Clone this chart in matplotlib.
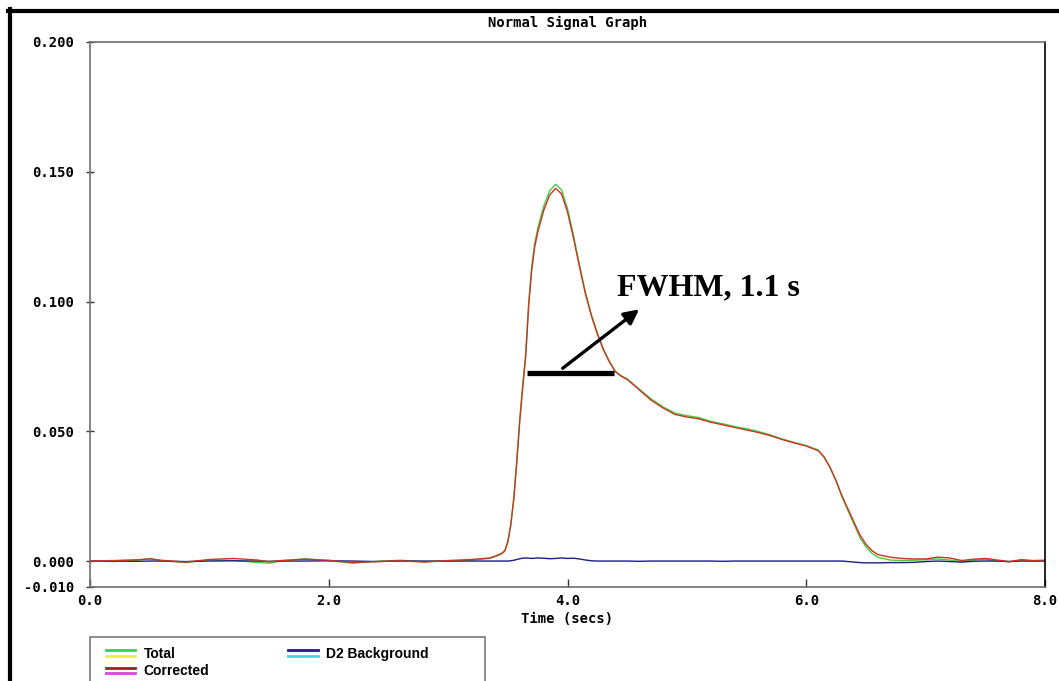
import matplotlib
matplotlib.use("Agg")
import matplotlib.pyplot as plt
from matplotlib.lines import Line2D
from matplotlib.patches import Rectangle
from matplotlib.legend_handler import HandlerBase

# tempo (s): linha de base, subida/pico, cauda
t = [0.0, 0.2, 0.4, 0.5, 0.6, 0.8, 1.0, 1.2, 1.4, 1.5, 1.6, 1.8, 2.0, 2.2, 2.4,
     2.6, 2.8, 3.0, 3.2, 3.3,
     3.35, 3.4, 3.45, 3.475, 3.5, 3.525, 3.55, 3.575, 3.6, 3.625, 3.65, 3.675,
     3.7, 3.725, 3.75, 3.8, 3.85, 3.9, 3.95, 4.0, 4.05, 4.1, 4.15, 4.2, 4.25,
     4.3, 4.35, 4.4, 4.45,
     4.5, 4.6, 4.7, 4.8, 4.9, 5.0, 5.1, 5.2, 5.3, 5.4, 5.5, 5.6, 5.7, 5.8, 5.9,
     6.0, 6.1, 6.15, 6.2, 6.25, 6.3, 6.35, 6.4, 6.45, 6.5, 6.55, 6.6, 6.7, 6.8,
     6.9, 7.0, 7.1, 7.2, 7.3, 7.4, 7.5, 7.6, 7.7, 7.8, 7.9, 8.0]

corrected = [0.0000, 0.0002, 0.0005, 0.0008, 0.0003, -0.0004, 0.0006, 0.0010,
             0.0004, -0.0003, 0.0002, 0.0007, 0.0003, -0.0006, -0.0002, 0.0001,
             -0.0004, 0.0002, 0.0006, 0.0010,
             0.0012, 0.0020, 0.0030, 0.0040, 0.0075, 0.0140, 0.0240, 0.0380,
             0.0540, 0.0670, 0.0790, 0.0985, 0.1120, 0.1210, 0.1265, 0.1350,
             0.1410, 0.1436, 0.1415, 0.1345, 0.1245, 0.1135, 0.1030, 0.0945,
             0.0875, 0.0815, 0.0768, 0.0730, 0.0712,
             0.0700, 0.0660, 0.0620, 0.0590, 0.0565, 0.0555, 0.0548, 0.0535,
             0.0525, 0.0515, 0.0505, 0.0495, 0.0483, 0.0468, 0.0455, 0.0443,
             0.0425, 0.0400, 0.0360, 0.0310, 0.0250, 0.0200, 0.0150, 0.0100,
             0.0065, 0.0040, 0.0025, 0.0015, 0.0010, 0.0008, 0.0008, 0.0015,
             0.0012, 0.0002, 0.0007, 0.0010, 0.0004, -0.0002, 0.0005, 0.0002,
             0.0003]

total = [0.0000, -0.0002, 0.0003, 0.0010, 0.0001, -0.0006, 0.0004, 0.0002,
         -0.0005, -0.0008, 0.0000, 0.0009, 0.0001, -0.0008, -0.0001, 0.0003,
         -0.0002, 0.0000, 0.0004, 0.0008,
         0.0010, 0.0018, 0.0028, 0.0038, 0.0072, 0.0138, 0.0240, 0.0384,
         0.0546, 0.0678, 0.0800, 0.0996, 0.1132, 0.1224, 0.1280, 0.1366,
         0.1426, 0.1452, 0.1430, 0.1358, 0.1255, 0.1142, 0.1036, 0.0950,
         0.0879, 0.0818, 0.0770, 0.0732, 0.0714,
         0.0702, 0.0663, 0.0625, 0.0594, 0.0570, 0.0560, 0.0553, 0.0538,
         0.0529, 0.0518, 0.0510, 0.0499, 0.0486, 0.0470, 0.0457, 0.0445,
         0.0428, 0.0402, 0.0360, 0.0308, 0.0246, 0.0194, 0.0142, 0.0090,
         0.0055, 0.0030, 0.0015, 0.0004, 0.0002, 0.0003, 0.0005, 0.0008,
         0.0004, -0.0002, 0.0004, 0.0006, 0.0001, -0.0003, 0.0004, 0.0000,
         0.0002]

background = [0.0000, 0.0000, -0.0001, 0.0000, 0.0000, -0.0002, 0.0000, 0.0001,
              0.0000, -0.0001, 0.0000, 0.0000, 0.0001, 0.0000, -0.0002, 0.0000,
              0.0000, 0.0000, 0.0000, 0.0000,
              0.0000, 0.0000, 0.0000, 0.0000, 0.0000, 0.0001, 0.0003, 0.0006,
              0.0009, 0.0011, 0.0012, 0.0011, 0.0010, 0.0011, 0.0012, 0.0011,
              0.0009, 0.0010, 0.0012, 0.0010, 0.0011, 0.0008, 0.0004, 0.0001,
              0.0000, 0.0000, 0.0000, 0.0000, 0.0000,
              0.0000, -0.0001, 0.0000, 0.0000, 0.0000, 0.0000, 0.0000, 0.0000,
              -0.0001, 0.0000, 0.0000, 0.0000, 0.0000, 0.0000, 0.0000, 0.0000,
              0.0000, 0.0000, 0.0000, 0.0000, 0.0000, -0.0002, -0.0004, -0.0006,
              -0.0007, -0.0007, -0.0007, -0.0006, -0.0006, -0.0005, -0.0002, 0.0000,
              -0.0002, -0.0004, -0.0001, 0.0000, 0.0000, -0.0002, 0.0000, 0.0000,
              0.0000]

yticks = [-0.010, 0.000, 0.050, 0.100, 0.150, 0.200]
xticks = [0.0, 2.0, 4.0, 6.0, 8.0]

# anotacao FWHM
fwhm_x = [3.66, 4.39]
fwhm_y = [0.0726, 0.0726]
seta_ini = (3.96, 0.0743)
seta_fim = (4.60, 0.0970)
texto_pos = (4.415, 0.1025)

mono = 'DejaVu Sans Mono'


class LinhaDupla(HandlerBase):
    # desenha duas linhas paralelas, como na legenda original
    def create_artists(self, legend, orig_handle, xdescent, ydescent,
                       width, height, fontsize, trans):
        c1, c2 = orig_handle
        y = height / 2 - ydescent
        l1 = Line2D([-xdescent, width - xdescent], [y + 2.0, y + 2.0], color=c1, lw=2.0)
        l2 = Line2D([-xdescent, width - xdescent], [y - 2.0, y - 2.0], color=c2, lw=2.0)
        l1.set_transform(trans)
        l2.set_transform(trans)
        return [l1, l2]


fig = plt.figure(figsize=(10.59, 6.81), dpi=100)
ax = fig.add_axes([90 / 1059, 1 - 587 / 681, 955 / 1059, 545 / 681])

ax.plot(t, total, color='#3fcf3f', lw=1.0)
ax.plot(t, background, color='#1c1c8a', lw=1.0)
ax.plot(t, corrected, color='#cc3322', lw=1.0)

ax.plot(fwhm_x, fwhm_y, color='black', lw=3.8, solid_capstyle='butt')
ax.annotate('', xy=seta_fim, xytext=seta_ini,
            arrowprops=dict(arrowstyle='-|>', color='black', lw=2.4, mutation_scale=22,
                            shrinkA=0, shrinkB=0))
ax.text(texto_pos[0], texto_pos[1], 'FWHM, 1.1 s', family='Liberation Serif',
        fontweight='bold', fontsize=23, va='baseline', ha='left')

ax.set_xlim(0, 8)
ax.set_ylim(-0.010, 0.200)
ax.set_xticks(xticks)
ax.set_xticklabels(['%.1f' % v for v in xticks])
ax.set_yticks(yticks)
ax.set_yticklabels(['%.3f' % v for v in yticks])
ax.tick_params(axis='y', direction='inout', length=6, width=1, pad=8.5, color='#333333')
ax.tick_params(axis='x', direction='in', length=6, width=1, pad=5, color='#333333')
for lab in ax.get_xticklabels() + ax.get_yticklabels():
    lab.set_family(mono)
    lab.set_fontweight('bold')
    lab.set_fontsize(10)

for s in ['top', 'left', 'bottom']:
    ax.spines[s].set_color('#6e6e6e')
    ax.spines[s].set_linewidth(1.2)
ax.spines['right'].set_color('black')
ax.spines['right'].set_linewidth(1.2)

ax.set_title('Normal Signal Graph', family=mono, fontweight='bold', fontsize=10, pad=10.5)
ax.set_xlabel('Time (secs)', family=mono, fontweight='bold', fontsize=10, labelpad=3)

# moldura externa
fig.add_artist(Line2D([8 / 1059, 1.0], [1 - 11 / 681, 1 - 11 / 681], color='black', lw=3))
fig.add_artist(Line2D([10 / 1059, 10 / 1059], [0.0, 1 - 9 / 681], color='black', lw=3))

# caixa da legenda
fig.add_artist(Rectangle((90 / 1059, -0.02), 395 / 1059, (681 - 637) / 681 + 0.02,
                         transform=fig.transFigure, fill=False, edgecolor='#7a7a7a', lw=1.2))

handles = [('#3fcf3f', '#eeee44'), ('#a01e1e', '#e040e0'), ('#1c1c8a', '#40dada')]
leg = fig.legend(handles, ['Total', 'Corrected', 'D2 Background'], ncol=2,
                 handler_map={tuple: LinhaDupla()}, loc='upper left',
                 bbox_to_anchor=(99 / 1059, 1 - 640 / 681), frameon=False,
                 borderpad=0, handlelength=2.1, handletextpad=0.6,
                 columnspacing=5.7, labelspacing=0.25,
                 prop={'family': 'Liberation Sans', 'weight': 'bold', 'size': 10})

fig.savefig('out.png', dpi=100)
